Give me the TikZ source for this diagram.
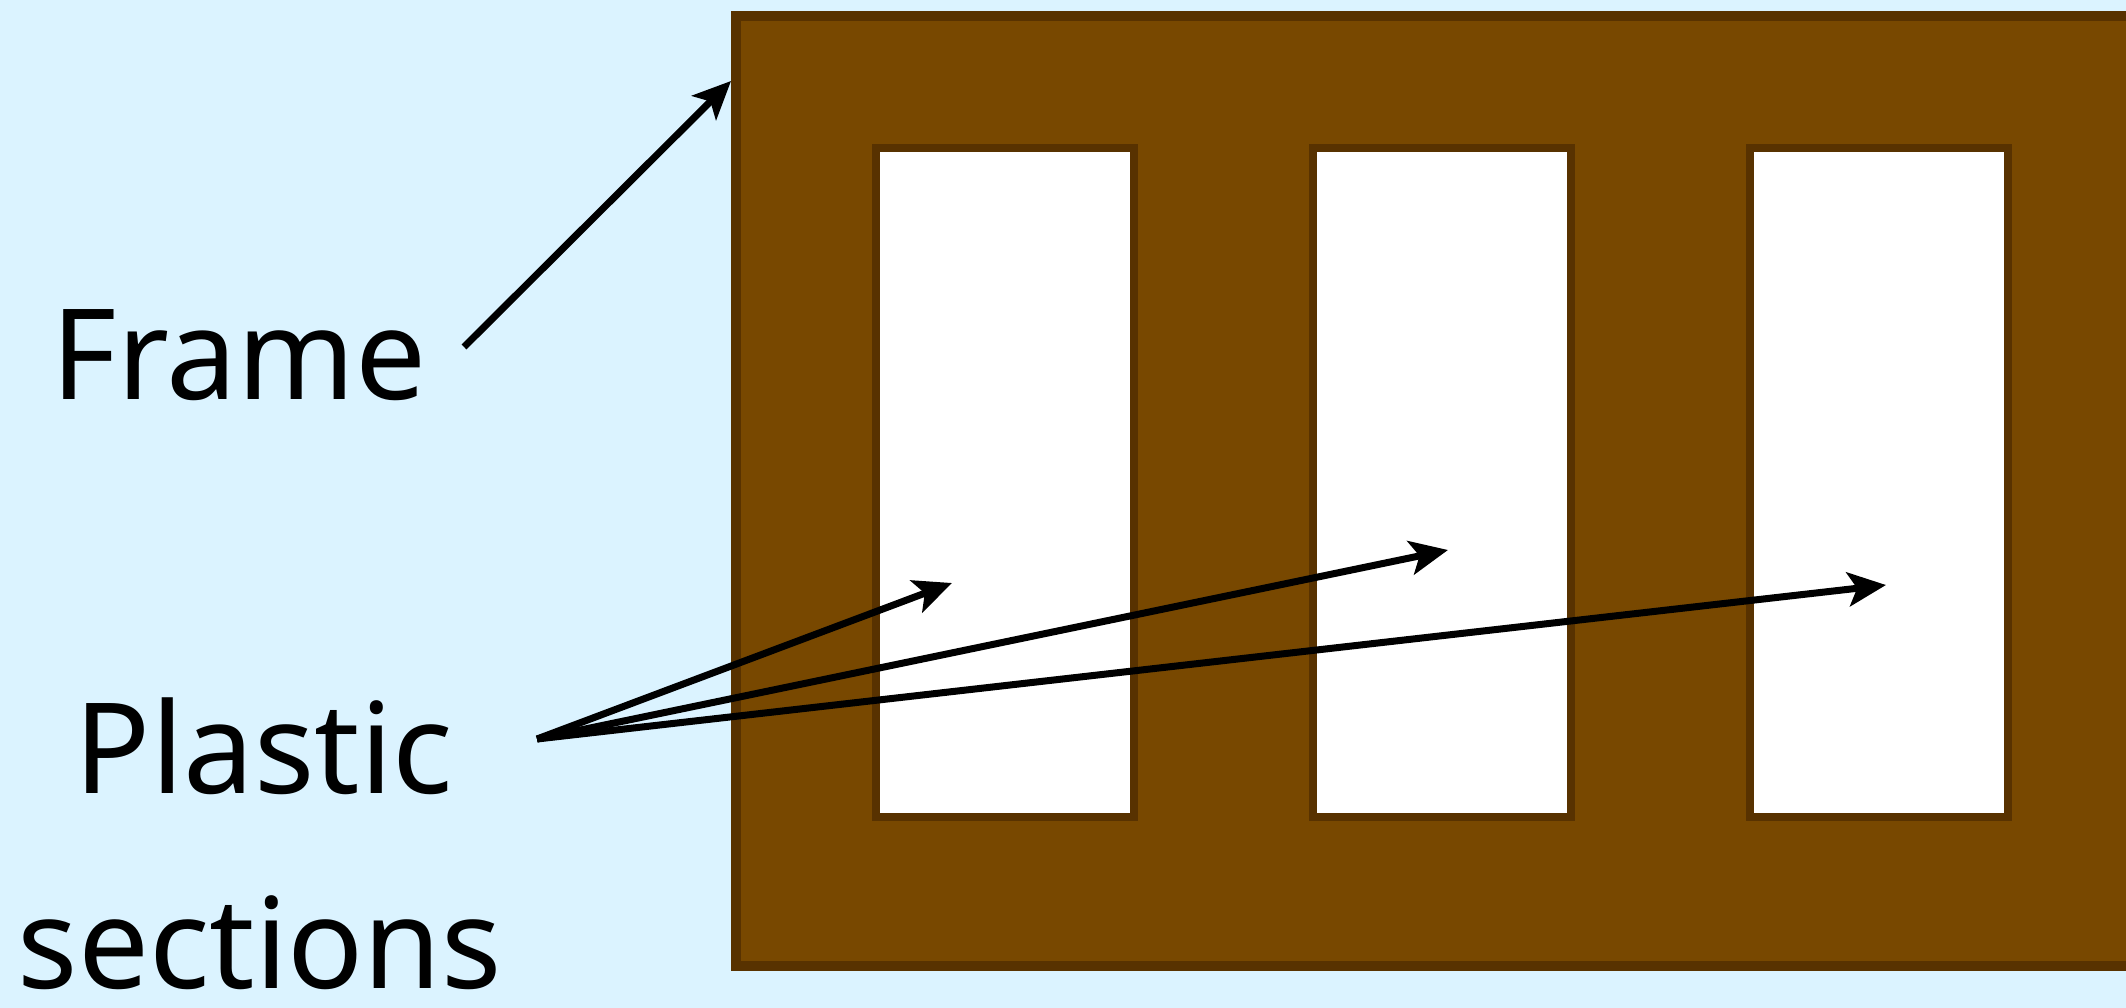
\documentclass[tikz,border=0pt]{standalone}
\usepackage{fontspec}
\setmainfont{Noto Sans}
\usetikzlibrary{arrows.meta}
\definecolor{skyback}{HTML}{DBF3FF}
\definecolor{woodfill}{HTML}{784800}
\definecolor{wooddark}{HTML}{583200}

\begin{document}
\begin{tikzpicture}[
    x=1pt, y=-1pt,
    framebox/.style={fill=woodfill, draw=wooddark, line width=10pt},
    pane/.style={fill=white, draw=wooddark, line width=8pt},
    lbl/.style={font=\fontsize{126}{151}\selectfont, text=black, inner sep=0pt},
    pointer/.style={draw=black, line width=7pt,
      -{Stealth[length=38pt, width=34pt, inset=9pt]}},
  ]

  \def\panew{258}
  \def\panetop{148}
  \def\panebot{817}

  \clip (0,0) rectangle (2126,1008);
  \fill[skyback] (0,0) rectangle (2126,1008);

  % ---------- frame with three panes
  \draw[framebox] (736,16) rectangle (2200,966);
  \foreach \px in {876,1313,1750}
    \draw[pane] (\px,\panetop) rectangle ++(\panew,\panebot-\panetop);

  % ---------- labels
  \node[lbl, anchor=base] (framelbl) at (239,399) {Frame};
  \node[lbl, anchor=base] (plasticlbl) at (264,793) {Plastic};
  \node[lbl, anchor=base] (sectionslbl) at (260,988) {sections};

  % ---------- pointers
  \coordinate (framefrom) at (464,347);
  \coordinate (frametip) at (731,81);
  \coordinate (plasticfrom) at (537,739);
  \coordinate (panetipa) at (952,583);
  \coordinate (panetipb) at (1448,550);
  \coordinate (panetipc) at (1886,585);

  \draw[pointer] (framefrom) -- (frametip);
  \draw[pointer] (plasticfrom) -- (panetipa);
  \draw[pointer] (plasticfrom) -- (panetipb);
  \draw[pointer] (plasticfrom) -- (panetipc);

\end{tikzpicture}
\end{document}
